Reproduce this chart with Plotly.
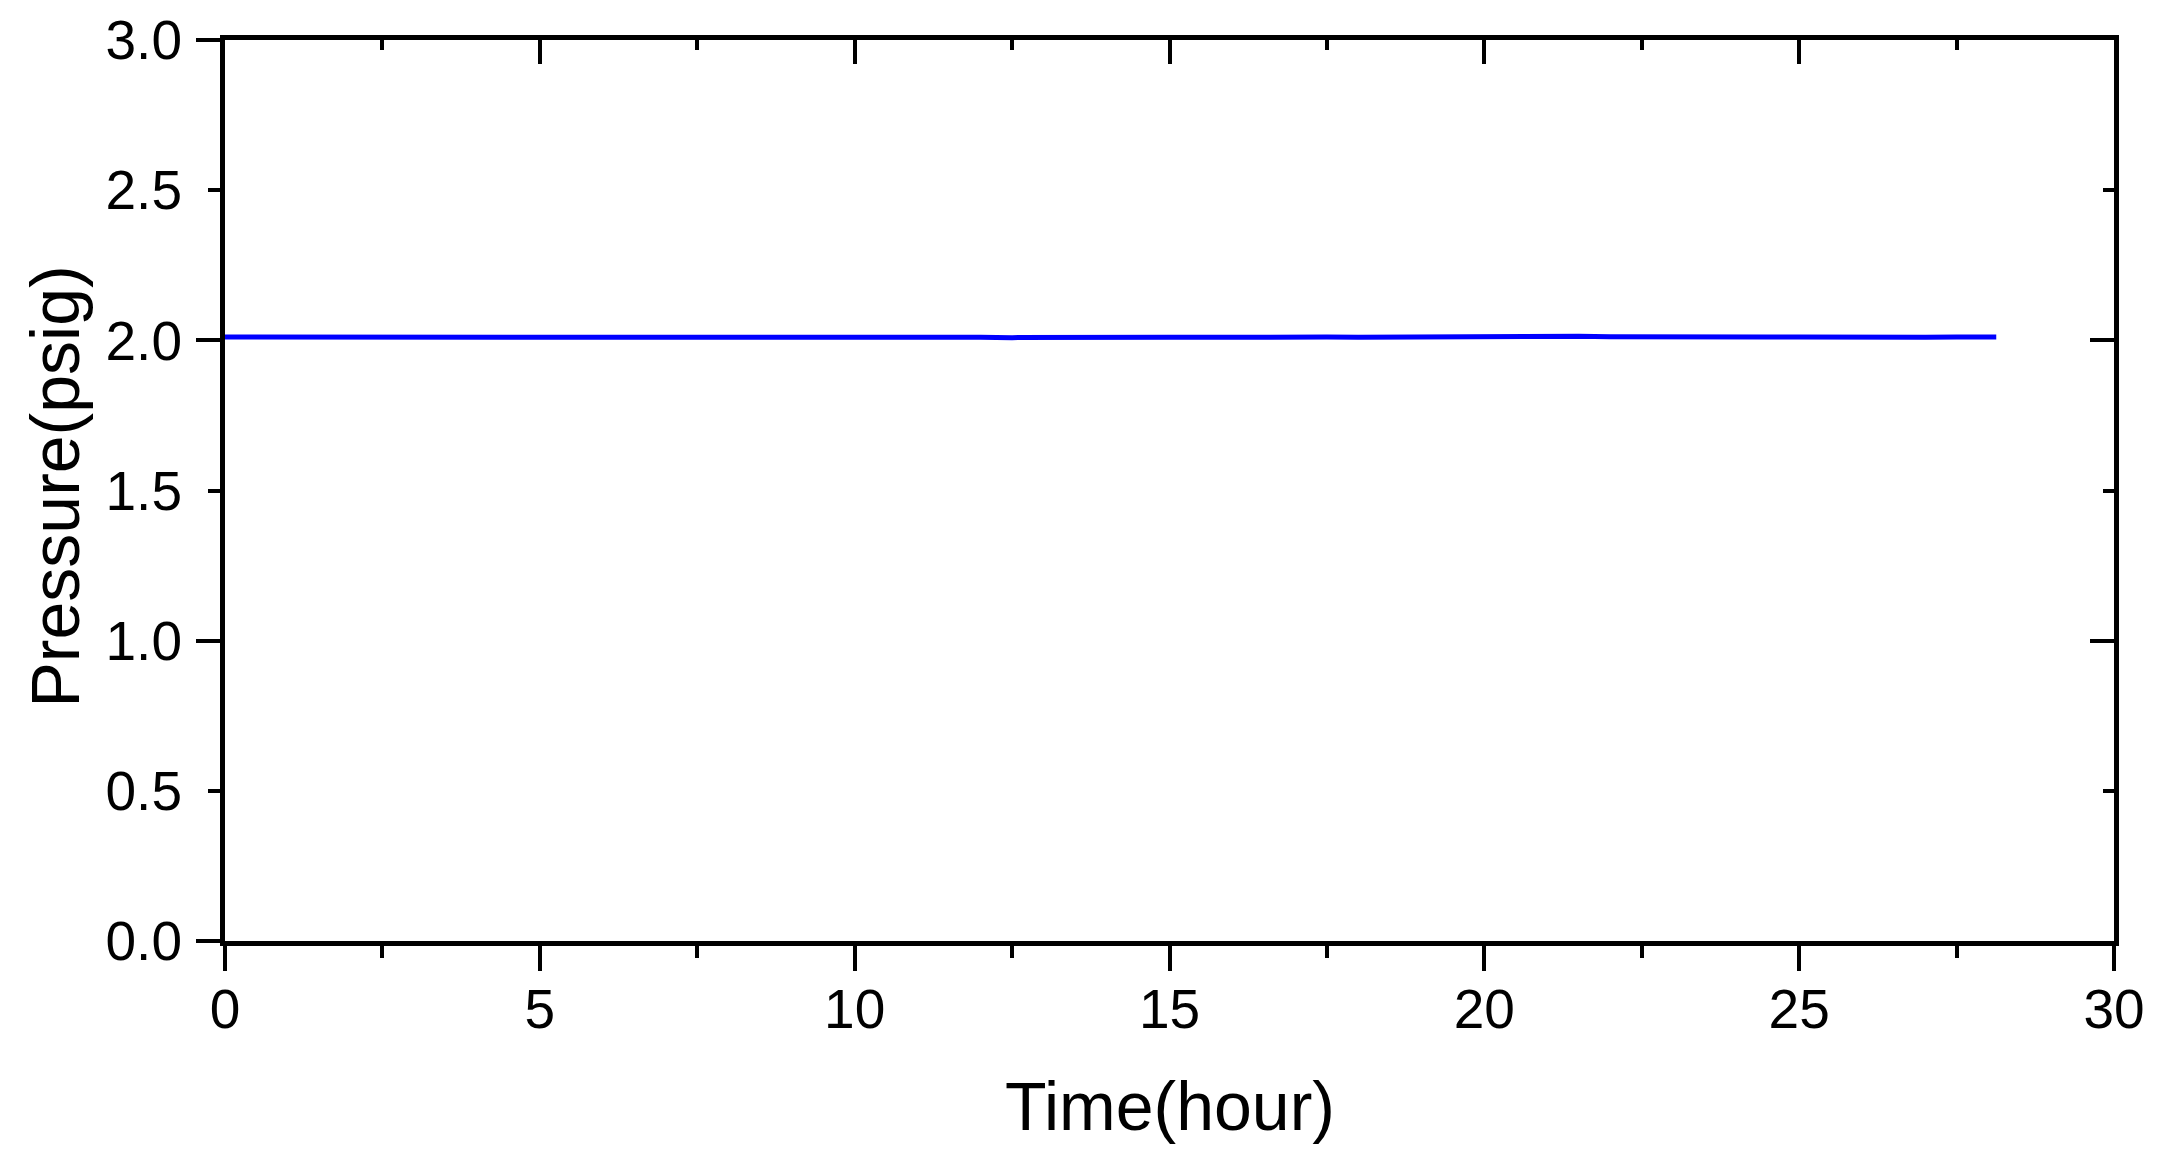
import plotly.graph_objects as go

# Pressure log (hours, psig)
time_hr = [0.0, 0.5, 1.0, 1.5, 2.0, 2.5, 3.0, 3.5, 4.0, 4.5, 5.0, 5.5, 6.0, 6.5,
           7.0, 7.5, 8.0, 8.5, 9.0, 9.5, 10.0, 10.5, 11.0, 11.5, 12.0, 12.5, 13.0,
           13.5, 14.0, 14.5, 15.0, 15.5, 16.0, 16.5, 17.0, 17.5, 18.0, 18.5, 19.0,
           19.5, 20.0, 20.5, 21.0, 21.5, 22.0, 22.5, 23.0, 23.5, 24.0, 24.5, 25.0,
           25.5, 26.0, 26.5, 27.0, 27.5, 28.0, 28.13]
pressure_psig = [2.011, 2.011, 2.012, 2.012, 2.014, 2.012, 2.011, 2.011, 2.012, 2.011,
                 2.011, 2.010, 2.011, 2.011, 2.010, 2.011, 2.011, 2.010, 2.011, 2.010,
                 2.010, 2.011, 2.010, 2.010, 2.010, 2.009, 2.010, 2.010, 2.011, 2.010,
                 2.010, 2.010, 2.011, 2.010, 2.010, 2.011, 2.010, 2.011, 2.010, 2.011,
                 2.011, 2.012, 2.013, 2.014, 2.012, 2.011, 2.011, 2.011, 2.010, 2.011,
                 2.011, 2.010, 2.011, 2.011, 2.010, 2.011, 2.011, 2.011]

X_RANGE = [0, 30]
Y_RANGE = [0, 3.0]
FONT = "Liberation Sans, Arial, sans-serif"

fig = go.Figure()
fig.add_trace(go.Scatter(
    x=time_hr, y=pressure_psig, mode="lines",
    line=dict(color="#0000FF", width=5), showlegend=False,
))

axis_common = dict(showgrid=False, zeroline=False, showline=True, automargin=False,
                   linecolor="black", linewidth=5, tickcolor="black", tickwidth=4)

# page body has an 8px margin, so the margins below are shifted by it
fig.update_layout(
    width=2157, height=1162,
    margin=dict(l=217, r=51, t=32, b=229),
    plot_bgcolor="white", paper_bgcolor="white",
    font=dict(family=FONT, color="black"),
    # bottom axis: labels every 5, long ticks at 5, short at 2.5
    xaxis=dict(**axis_common, range=X_RANGE, dtick=5, ticks="outside", ticklen=25,
               minor=dict(dtick=2.5, ticks="outside", ticklen=12, tickwidth=4, tickcolor="black"),
               tickfont=dict(size=55), ticklabelstandoff=-9),
    # top axis: inward ticks only
    xaxis2=dict(**axis_common, range=X_RANGE, overlaying="x", side="top", anchor="y",
                dtick=5, ticks="inside", ticklen=24, showticklabels=False,
                minor=dict(dtick=2.5, ticks="inside", ticklen=10, tickwidth=4, tickcolor="black")),
    # left axis: labels every 0.5 with short ticks
    yaxis=dict(**axis_common, range=Y_RANGE, dtick=0.5, tickformat=".1f",
               ticks="outside", ticklen=12, tickfont=dict(size=55), ticklabelstandoff=15),
    # left axis: long ticks at whole numbers
    yaxis2=dict(**axis_common, range=Y_RANGE, overlaying="y", side="left", anchor="x",
                dtick=1, ticks="outside", ticklen=24, showticklabels=False),
    # right axis: inward ticks only
    yaxis3=dict(**axis_common, range=Y_RANGE, overlaying="y", side="right", anchor="x",
                dtick=1, ticks="inside", ticklen=24, showticklabels=False,
                minor=dict(dtick=0.5, ticks="inside", ticklen=11, tickwidth=4, tickcolor="black")),
)

# empty traces so the overlay axes get drawn
fig.add_trace(go.Scatter(x=[None], y=[None], xaxis="x2", yaxis="y", showlegend=False))
fig.add_trace(go.Scatter(x=[None], y=[None], xaxis="x", yaxis="y2", showlegend=False))
fig.add_trace(go.Scatter(x=[None], y=[None], xaxis="x", yaxis="y3", showlegend=False))

fig.add_annotation(text="Time(hour)", xref="paper", yref="paper", x=0.5, y=0,
                   xanchor="center", yanchor="top", yshift=-125, showarrow=False,
                   font=dict(size=68, family=FONT))
fig.add_annotation(text="Pressure(psig)", xref="paper", yref="paper", x=0, y=0.5,
                   xanchor="right", yanchor="middle", xshift=-131, yshift=4, textangle=-90,
                   showarrow=False, font=dict(size=68, family=FONT))

fig.write_html("out.html")
